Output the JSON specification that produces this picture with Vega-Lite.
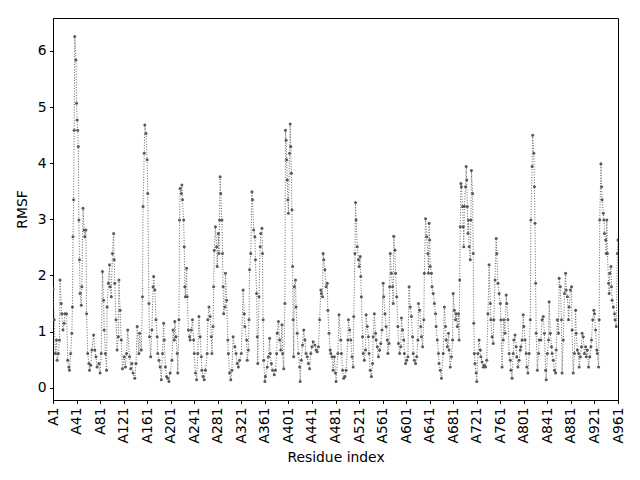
{
  "$schema": "https://vega.github.io/schema/vega-lite/v6.json",
  "width": 565,
  "height": 382,
  "autosize": "none",
  "padding": {"left": 53, "top": 18, "right": 22, "bottom": 80},
  "config": {
    "font": "DejaVu Sans",
    "view": {"stroke": "black", "strokeWidth": 1},
    "axis": {
      "grid": false,
      "domainColor": "black",
      "domainWidth": 1,
      "tickColor": "black",
      "tickWidth": 1,
      "tickSize": 3.5,
      "labelPadding": 3.5,
      "labelColor": "black",
      "labelFontSize": 13.9,
      "labelFlush": false,
      "labelOverlap": false,
      "labelBound": false,
      "titleColor": "black",
      "titleFontSize": 13.9,
      "titleFontWeight": "normal"
    }
  },
  "data": {
    "values": [
      {"residue": 1, "rmsf": 1.77}, {"residue": 3, "rmsf": 1.21}, {"residue": 5, "rmsf": 0.61}, {"residue": 7, "rmsf": 0.85},
      {"residue": 8, "rmsf": 0.49}, {"residue": 10, "rmsf": 0.61}, {"residue": 12, "rmsf": 0.85}, {"residue": 13, "rmsf": 1.92},
      {"residue": 15, "rmsf": 1.5}, {"residue": 16, "rmsf": 1.32}, {"residue": 18, "rmsf": 1.03}, {"residue": 20, "rmsf": 1.15},
      {"residue": 21, "rmsf": 1.32}, {"residue": 24, "rmsf": 1.32}, {"residue": 26, "rmsf": 0.49}, {"residue": 28, "rmsf": 0.37},
      {"residue": 29, "rmsf": 0.31}, {"residue": 31, "rmsf": 0.61}, {"residue": 33, "rmsf": 0.97}, {"residue": 34, "rmsf": 1.44},
      {"residue": 35, "rmsf": 2.69}, {"residue": 36, "rmsf": 3.35}, {"residue": 37, "rmsf": 4.59}, {"residue": 38, "rmsf": 6.26},
      {"residue": 40, "rmsf": 5.84}, {"residue": 41, "rmsf": 5.07}, {"residue": 42, "rmsf": 4.77}, {"residue": 43, "rmsf": 4.59},
      {"residue": 44, "rmsf": 4.3}, {"residue": 45, "rmsf": 2.99}, {"residue": 46, "rmsf": 2.28}, {"residue": 47, "rmsf": 1.68},
      {"residue": 49, "rmsf": 1.47}, {"residue": 50, "rmsf": 1.8}, {"residue": 52, "rmsf": 3.2}, {"residue": 54, "rmsf": 2.81},
      {"residue": 55, "rmsf": 2.69}, {"residue": 57, "rmsf": 2.81}, {"residue": 58, "rmsf": 1.32}, {"residue": 60, "rmsf": 0.61},
      {"residue": 62, "rmsf": 0.43}, {"residue": 63, "rmsf": 0.31}, {"residue": 65, "rmsf": 0.4}, {"residue": 67, "rmsf": 0.67},
      {"residue": 70, "rmsf": 0.94}, {"residue": 72, "rmsf": 0.67}, {"residue": 74, "rmsf": 0.55}, {"residue": 76, "rmsf": 0.37},
      {"residue": 79, "rmsf": 0.43}, {"residue": 81, "rmsf": 0.26}, {"residue": 83, "rmsf": 0.61}, {"residue": 85, "rmsf": 2.07},
      {"residue": 87, "rmsf": 1.56}, {"residue": 88, "rmsf": 1.03}, {"residue": 90, "rmsf": 0.61}, {"residue": 92, "rmsf": 0.31},
      {"residue": 93, "rmsf": 1.44}, {"residue": 95, "rmsf": 1.86}, {"residue": 97, "rmsf": 2.19}, {"residue": 98, "rmsf": 1.8},
      {"residue": 100, "rmsf": 1.62}, {"residue": 102, "rmsf": 2.39}, {"residue": 104, "rmsf": 2.75}, {"residue": 105, "rmsf": 2.28},
      {"residue": 106, "rmsf": 1.86}, {"residue": 108, "rmsf": 1.21}, {"residue": 110, "rmsf": 0.67}, {"residue": 112, "rmsf": 0.91},
      {"residue": 113, "rmsf": 1.92}, {"residue": 115, "rmsf": 1.38}, {"residue": 117, "rmsf": 0.85}, {"residue": 119, "rmsf": 0.34},
      {"residue": 122, "rmsf": 0.55}, {"residue": 124, "rmsf": 0.37}, {"residue": 126, "rmsf": 0.61}, {"residue": 128, "rmsf": 1.03},
      {"residue": 131, "rmsf": 0.55}, {"residue": 133, "rmsf": 0.34}, {"residue": 135, "rmsf": 0.43}, {"residue": 137, "rmsf": 0.26},
      {"residue": 140, "rmsf": 0.17}, {"residue": 142, "rmsf": 0.43}, {"residue": 144, "rmsf": 1.09}, {"residue": 147, "rmsf": 0.61},
      {"residue": 148, "rmsf": 0.97}, {"residue": 151, "rmsf": 0.67}, {"residue": 153, "rmsf": 1.62}, {"residue": 154, "rmsf": 3.23},
      {"residue": 156, "rmsf": 4.18}, {"residue": 157, "rmsf": 4.68}, {"residue": 159, "rmsf": 4.53}, {"residue": 161, "rmsf": 4.06},
      {"residue": 162, "rmsf": 3.46}, {"residue": 164, "rmsf": 1.5}, {"residue": 165, "rmsf": 0.91}, {"residue": 167, "rmsf": 0.55},
      {"residue": 169, "rmsf": 1.03}, {"residue": 171, "rmsf": 1.8}, {"residue": 172, "rmsf": 1.98}, {"residue": 174, "rmsf": 1.74},
      {"residue": 176, "rmsf": 1.21}, {"residue": 178, "rmsf": 0.91}, {"residue": 179, "rmsf": 0.61}, {"residue": 181, "rmsf": 0.49},
      {"residue": 183, "rmsf": 0.37}, {"residue": 185, "rmsf": 0.14}, {"residue": 187, "rmsf": 0.61}, {"residue": 189, "rmsf": 1.15},
      {"residue": 190, "rmsf": 0.85}, {"residue": 192, "rmsf": 0.37}, {"residue": 194, "rmsf": 0.2}, {"residue": 196, "rmsf": 0.17},
      {"residue": 198, "rmsf": 0.11}, {"residue": 200, "rmsf": 0.26}, {"residue": 203, "rmsf": 0.49}, {"residue": 205, "rmsf": 1.03},
      {"residue": 207, "rmsf": 0.85}, {"residue": 208, "rmsf": 1.18}, {"residue": 210, "rmsf": 0.91}, {"residue": 212, "rmsf": 0.61},
      {"residue": 213, "rmsf": 0.26}, {"residue": 215, "rmsf": 1.21}, {"residue": 216, "rmsf": 2.99}, {"residue": 217, "rmsf": 3.55},
      {"residue": 219, "rmsf": 3.46}, {"residue": 220, "rmsf": 3.61}, {"residue": 221, "rmsf": 3.35}, {"residue": 223, "rmsf": 2.99},
      {"residue": 224, "rmsf": 2.51}, {"residue": 225, "rmsf": 1.8}, {"residue": 226, "rmsf": 1.62}, {"residue": 228, "rmsf": 2.13},
      {"residue": 229, "rmsf": 1.62}, {"residue": 231, "rmsf": 1.03}, {"residue": 233, "rmsf": 0.91}, {"residue": 234, "rmsf": 0.85},
      {"residue": 236, "rmsf": 1.03}, {"residue": 238, "rmsf": 1.21}, {"residue": 240, "rmsf": 0.85}, {"residue": 241, "rmsf": 0.61},
      {"residue": 243, "rmsf": 0.26}, {"residue": 245, "rmsf": 0.14}, {"residue": 247, "rmsf": 0.61}, {"residue": 249, "rmsf": 1.27},
      {"residue": 251, "rmsf": 0.91}, {"residue": 253, "rmsf": 0.55}, {"residue": 254, "rmsf": 0.31}, {"residue": 256, "rmsf": 0.2},
      {"residue": 258, "rmsf": 0.14}, {"residue": 260, "rmsf": 0.31}, {"residue": 263, "rmsf": 0.61}, {"residue": 264, "rmsf": 1.21},
      {"residue": 266, "rmsf": 1.44}, {"residue": 268, "rmsf": 1.27}, {"residue": 270, "rmsf": 0.91}, {"residue": 271, "rmsf": 0.61},
      {"residue": 273, "rmsf": 1.09}, {"residue": 274, "rmsf": 1.8}, {"residue": 275, "rmsf": 2.45}, {"residue": 277, "rmsf": 2.87},
      {"residue": 279, "rmsf": 2.51}, {"residue": 280, "rmsf": 2.16}, {"residue": 282, "rmsf": 2.75}, {"residue": 283, "rmsf": 2.39},
      {"residue": 284, "rmsf": 2.99}, {"residue": 285, "rmsf": 3.76}, {"residue": 286, "rmsf": 3.46}, {"residue": 288, "rmsf": 2.99},
      {"residue": 289, "rmsf": 2.39}, {"residue": 290, "rmsf": 1.8}, {"residue": 291, "rmsf": 1.32}, {"residue": 293, "rmsf": 1.44},
      {"residue": 294, "rmsf": 2.04}, {"residue": 296, "rmsf": 1.56}, {"residue": 298, "rmsf": 0.85}, {"residue": 299, "rmsf": 0.61},
      {"residue": 301, "rmsf": 0.26}, {"residue": 303, "rmsf": 0.14}, {"residue": 305, "rmsf": 0.31}, {"residue": 307, "rmsf": 0.91},
      {"residue": 310, "rmsf": 0.73}, {"residue": 312, "rmsf": 0.61}, {"residue": 314, "rmsf": 0.43}, {"residue": 316, "rmsf": 0.37},
      {"residue": 318, "rmsf": 0.49}, {"residue": 321, "rmsf": 0.61}, {"residue": 324, "rmsf": 1.74}, {"residue": 326, "rmsf": 1.32},
      {"residue": 327, "rmsf": 1.09}, {"residue": 330, "rmsf": 0.85}, {"residue": 331, "rmsf": 0.49}, {"residue": 333, "rmsf": 0.67},
      {"residue": 334, "rmsf": 1.21}, {"residue": 335, "rmsf": 2.1}, {"residue": 337, "rmsf": 2.39}, {"residue": 339, "rmsf": 3.49},
      {"residue": 340, "rmsf": 3.35}, {"residue": 342, "rmsf": 2.81}, {"residue": 344, "rmsf": 2.69}, {"residue": 345, "rmsf": 2.28},
      {"residue": 347, "rmsf": 1.68}, {"residue": 348, "rmsf": 0.91}, {"residue": 349, "rmsf": 0.43}, {"residue": 351, "rmsf": 1.62},
      {"residue": 353, "rmsf": 2.51}, {"residue": 354, "rmsf": 2.75}, {"residue": 356, "rmsf": 2.84}, {"residue": 357, "rmsf": 2.39},
      {"residue": 358, "rmsf": 1.21}, {"residue": 359, "rmsf": 0.49}, {"residue": 361, "rmsf": 0.11}, {"residue": 362, "rmsf": 0.2},
      {"residue": 365, "rmsf": 0.37}, {"residue": 367, "rmsf": 0.55}, {"residue": 369, "rmsf": 0.88}, {"residue": 370, "rmsf": 0.61},
      {"residue": 372, "rmsf": 0.43}, {"residue": 374, "rmsf": 0.31}, {"residue": 377, "rmsf": 0.23}, {"residue": 379, "rmsf": 0.31},
      {"residue": 381, "rmsf": 0.61}, {"residue": 382, "rmsf": 0.97}, {"residue": 384, "rmsf": 1.18}, {"residue": 386, "rmsf": 0.85},
      {"residue": 388, "rmsf": 0.67}, {"residue": 390, "rmsf": 1.12}, {"residue": 391, "rmsf": 0.61}, {"residue": 393, "rmsf": 0.34},
      {"residue": 395, "rmsf": 1.5}, {"residue": 396, "rmsf": 4.59}, {"residue": 397, "rmsf": 4.41}, {"residue": 398, "rmsf": 4.06},
      {"residue": 399, "rmsf": 3.7}, {"residue": 400, "rmsf": 3.35}, {"residue": 401, "rmsf": 3.11}, {"residue": 403, "rmsf": 4.18},
      {"residue": 404, "rmsf": 4.7}, {"residue": 405, "rmsf": 4.3}, {"residue": 406, "rmsf": 3.82}, {"residue": 407, "rmsf": 3.17},
      {"residue": 408, "rmsf": 2.16}, {"residue": 409, "rmsf": 1.21}, {"residue": 410, "rmsf": 0.55}, {"residue": 411, "rmsf": 1.8},
      {"residue": 413, "rmsf": 1.92}, {"residue": 414, "rmsf": 1.44}, {"residue": 416, "rmsf": 0.97}, {"residue": 418, "rmsf": 0.61},
      {"residue": 420, "rmsf": 0.37}, {"residue": 421, "rmsf": 0.11}, {"residue": 423, "rmsf": 0.49}, {"residue": 425, "rmsf": 0.76},
      {"residue": 427, "rmsf": 1.03}, {"residue": 429, "rmsf": 0.85}, {"residue": 431, "rmsf": 0.61}, {"residue": 433, "rmsf": 0.55},
      {"residue": 435, "rmsf": 0.43}, {"residue": 437, "rmsf": 0.34}, {"residue": 439, "rmsf": 0.61}, {"residue": 441, "rmsf": 0.73},
      {"residue": 443, "rmsf": 0.82}, {"residue": 446, "rmsf": 0.76}, {"residue": 448, "rmsf": 0.67}, {"residue": 450, "rmsf": 0.64},
      {"residue": 452, "rmsf": 0.73}, {"residue": 454, "rmsf": 1.21}, {"residue": 456, "rmsf": 1.74}, {"residue": 457, "rmsf": 1.68},
      {"residue": 459, "rmsf": 1.62}, {"residue": 460, "rmsf": 2.39}, {"residue": 461, "rmsf": 2.28}, {"residue": 463, "rmsf": 2.1},
      {"residue": 465, "rmsf": 1.8}, {"residue": 467, "rmsf": 1.86}, {"residue": 468, "rmsf": 1.38}, {"residue": 470, "rmsf": 0.97},
      {"residue": 472, "rmsf": 0.67}, {"residue": 473, "rmsf": 0.61}, {"residue": 475, "rmsf": 0.55}, {"residue": 477, "rmsf": 0.31},
      {"residue": 479, "rmsf": 0.55}, {"residue": 481, "rmsf": 0.26}, {"residue": 482, "rmsf": 0.11}, {"residue": 485, "rmsf": 0.61},
      {"residue": 487, "rmsf": 1.3}, {"residue": 490, "rmsf": 0.85}, {"residue": 491, "rmsf": 0.61}, {"residue": 493, "rmsf": 0.31},
      {"residue": 495, "rmsf": 0.17}, {"residue": 497, "rmsf": 0.2}, {"residue": 499, "rmsf": 0.31}, {"residue": 502, "rmsf": 0.85},
      {"residue": 503, "rmsf": 1.21}, {"residue": 505, "rmsf": 1.03}, {"residue": 507, "rmsf": 0.85}, {"residue": 509, "rmsf": 0.55},
      {"residue": 511, "rmsf": 0.37}, {"residue": 512, "rmsf": 1.27}, {"residue": 514, "rmsf": 2.39}, {"residue": 515, "rmsf": 3.3},
      {"residue": 516, "rmsf": 2.99}, {"residue": 518, "rmsf": 2.51}, {"residue": 520, "rmsf": 2.28}, {"residue": 521, "rmsf": 2.16},
      {"residue": 523, "rmsf": 2.34}, {"residue": 524, "rmsf": 1.98}, {"residue": 525, "rmsf": 1.62}, {"residue": 527, "rmsf": 0.91},
      {"residue": 528, "rmsf": 0.61}, {"residue": 530, "rmsf": 0.49}, {"residue": 532, "rmsf": 0.67}, {"residue": 533, "rmsf": 1.3},
      {"residue": 535, "rmsf": 1.09}, {"residue": 537, "rmsf": 0.91}, {"residue": 538, "rmsf": 0.61}, {"residue": 540, "rmsf": 0.31},
      {"residue": 542, "rmsf": 0.2}, {"residue": 544, "rmsf": 0.43}, {"residue": 545, "rmsf": 0.91}, {"residue": 547, "rmsf": 1.32},
      {"residue": 549, "rmsf": 0.97}, {"residue": 550, "rmsf": 0.85}, {"residue": 552, "rmsf": 0.73}, {"residue": 554, "rmsf": 0.55},
      {"residue": 556, "rmsf": 0.67}, {"residue": 558, "rmsf": 0.79}, {"residue": 560, "rmsf": 1.03}, {"residue": 562, "rmsf": 1.86},
      {"residue": 563, "rmsf": 1.62}, {"residue": 565, "rmsf": 1.32}, {"residue": 567, "rmsf": 1.09}, {"residue": 569, "rmsf": 0.85},
      {"residue": 570, "rmsf": 0.61}, {"residue": 572, "rmsf": 0.79}, {"residue": 573, "rmsf": 1.8}, {"residue": 574, "rmsf": 2.39},
      {"residue": 576, "rmsf": 2.04}, {"residue": 578, "rmsf": 1.8}, {"residue": 579, "rmsf": 1.5}, {"residue": 580, "rmsf": 2.7},
      {"residue": 582, "rmsf": 2.45}, {"residue": 583, "rmsf": 2.04}, {"residue": 585, "rmsf": 1.62}, {"residue": 587, "rmsf": 1.09},
      {"residue": 588, "rmsf": 0.79}, {"residue": 590, "rmsf": 0.61}, {"residue": 592, "rmsf": 0.73}, {"residue": 593, "rmsf": 1.24},
      {"residue": 595, "rmsf": 1.03}, {"residue": 597, "rmsf": 0.85}, {"residue": 598, "rmsf": 0.61}, {"residue": 600, "rmsf": 0.43},
      {"residue": 602, "rmsf": 0.49}, {"residue": 604, "rmsf": 0.55}, {"residue": 606, "rmsf": 1.8}, {"residue": 608, "rmsf": 1.44},
      {"residue": 610, "rmsf": 1.27}, {"residue": 612, "rmsf": 0.91}, {"residue": 613, "rmsf": 0.61}, {"residue": 615, "rmsf": 0.49},
      {"residue": 617, "rmsf": 0.43}, {"residue": 619, "rmsf": 0.55}, {"residue": 621, "rmsf": 0.85}, {"residue": 622, "rmsf": 1.5},
      {"residue": 624, "rmsf": 1.38}, {"residue": 626, "rmsf": 1.09}, {"residue": 627, "rmsf": 0.91}, {"residue": 629, "rmsf": 0.73},
      {"residue": 631, "rmsf": 1.21}, {"residue": 632, "rmsf": 2.04}, {"residue": 634, "rmsf": 3.01}, {"residue": 636, "rmsf": 2.69},
      {"residue": 638, "rmsf": 2.39}, {"residue": 639, "rmsf": 2.04}, {"residue": 640, "rmsf": 2.93}, {"residue": 641, "rmsf": 2.63},
      {"residue": 642, "rmsf": 2.16}, {"residue": 644, "rmsf": 2.04}, {"residue": 645, "rmsf": 1.8}, {"residue": 647, "rmsf": 1.68},
      {"residue": 649, "rmsf": 1.5}, {"residue": 651, "rmsf": 1.32}, {"residue": 652, "rmsf": 1.09}, {"residue": 654, "rmsf": 0.85},
      {"residue": 656, "rmsf": 0.61}, {"residue": 657, "rmsf": 0.43}, {"residue": 659, "rmsf": 0.31}, {"residue": 661, "rmsf": 0.17},
      {"residue": 664, "rmsf": 0.61}, {"residue": 666, "rmsf": 1.44}, {"residue": 668, "rmsf": 1.09}, {"residue": 669, "rmsf": 0.85},
      {"residue": 671, "rmsf": 0.73}, {"residue": 673, "rmsf": 0.97}, {"residue": 674, "rmsf": 0.67}, {"residue": 676, "rmsf": 0.37},
      {"residue": 678, "rmsf": 0.55}, {"residue": 680, "rmsf": 0.85}, {"residue": 681, "rmsf": 1.68}, {"residue": 683, "rmsf": 1.38},
      {"residue": 685, "rmsf": 1.21}, {"residue": 686, "rmsf": 1.32}, {"residue": 688, "rmsf": 1.09}, {"residue": 690, "rmsf": 1.32},
      {"residue": 691, "rmsf": 0.85}, {"residue": 692, "rmsf": 1.92}, {"residue": 693, "rmsf": 2.87}, {"residue": 694, "rmsf": 3.64},
      {"residue": 695, "rmsf": 3.58}, {"residue": 697, "rmsf": 3.23}, {"residue": 698, "rmsf": 2.87}, {"residue": 699, "rmsf": 2.51},
      {"residue": 700, "rmsf": 3.23}, {"residue": 702, "rmsf": 3.58}, {"residue": 703, "rmsf": 3.94}, {"residue": 704, "rmsf": 3.7},
      {"residue": 705, "rmsf": 3.23}, {"residue": 706, "rmsf": 2.75}, {"residue": 707, "rmsf": 2.99}, {"residue": 708, "rmsf": 2.51},
      {"residue": 710, "rmsf": 2.28}, {"residue": 711, "rmsf": 2.99}, {"residue": 712, "rmsf": 3.87}, {"residue": 714, "rmsf": 3.46},
      {"residue": 715, "rmsf": 2.39}, {"residue": 716, "rmsf": 1.15}, {"residue": 717, "rmsf": 0.61}, {"residue": 718, "rmsf": 0.43},
      {"residue": 720, "rmsf": 0.26}, {"residue": 721, "rmsf": 0.11}, {"residue": 723, "rmsf": 0.61}, {"residue": 725, "rmsf": 0.85},
      {"residue": 727, "rmsf": 0.67}, {"residue": 728, "rmsf": 0.55}, {"residue": 730, "rmsf": 0.46}, {"residue": 732, "rmsf": 0.37},
      {"residue": 734, "rmsf": 0.4}, {"residue": 736, "rmsf": 0.37}, {"residue": 738, "rmsf": 0.49}, {"residue": 740, "rmsf": 1.32},
      {"residue": 742, "rmsf": 2.19}, {"residue": 744, "rmsf": 1.5}, {"residue": 745, "rmsf": 1.21}, {"residue": 747, "rmsf": 0.91},
      {"residue": 749, "rmsf": 0.79}, {"residue": 750, "rmsf": 1.21}, {"residue": 752, "rmsf": 1.92}, {"residue": 754, "rmsf": 2.66},
      {"residue": 755, "rmsf": 2.39}, {"residue": 757, "rmsf": 1.86}, {"residue": 759, "rmsf": 1.68}, {"residue": 761, "rmsf": 1.5},
      {"residue": 762, "rmsf": 1.21}, {"residue": 764, "rmsf": 0.37}, {"residue": 766, "rmsf": 0.85}, {"residue": 767, "rmsf": 1.21},
      {"residue": 769, "rmsf": 0.97}, {"residue": 771, "rmsf": 1.65}, {"residue": 772, "rmsf": 1.5}, {"residue": 774, "rmsf": 1.21},
      {"residue": 776, "rmsf": 0.61}, {"residue": 778, "rmsf": 0.49}, {"residue": 779, "rmsf": 0.31}, {"residue": 781, "rmsf": 0.17},
      {"residue": 783, "rmsf": 0.61}, {"residue": 784, "rmsf": 0.85}, {"residue": 786, "rmsf": 0.94}, {"residue": 788, "rmsf": 0.73},
      {"residue": 789, "rmsf": 0.55}, {"residue": 791, "rmsf": 0.37}, {"residue": 793, "rmsf": 0.49}, {"residue": 795, "rmsf": 0.67},
      {"residue": 796, "rmsf": 0.73}, {"residue": 798, "rmsf": 0.85}, {"residue": 800, "rmsf": 1.3}, {"residue": 801, "rmsf": 1.09},
      {"residue": 803, "rmsf": 0.85}, {"residue": 805, "rmsf": 0.61}, {"residue": 806, "rmsf": 0.37}, {"residue": 808, "rmsf": 0.26},
      {"residue": 810, "rmsf": 0.61}, {"residue": 812, "rmsf": 1.21}, {"residue": 813, "rmsf": 2.99}, {"residue": 815, "rmsf": 3.94},
      {"residue": 816, "rmsf": 4.5}, {"residue": 818, "rmsf": 4.18}, {"residue": 819, "rmsf": 3.58}, {"residue": 820, "rmsf": 2.93},
      {"residue": 821, "rmsf": 1.86}, {"residue": 822, "rmsf": 0.97}, {"residue": 824, "rmsf": 0.31}, {"residue": 826, "rmsf": 0.61},
      {"residue": 827, "rmsf": 0.85}, {"residue": 830, "rmsf": 0.85}, {"residue": 832, "rmsf": 1.21}, {"residue": 834, "rmsf": 1.27},
      {"residue": 836, "rmsf": 0.97}, {"residue": 838, "rmsf": 0.31}, {"residue": 839, "rmsf": 0.14}, {"residue": 841, "rmsf": 0.61},
      {"residue": 843, "rmsf": 0.85}, {"residue": 844, "rmsf": 1.53}, {"residue": 846, "rmsf": 0.97}, {"residue": 848, "rmsf": 0.73},
      {"residue": 849, "rmsf": 0.61}, {"residue": 851, "rmsf": 0.49}, {"residue": 853, "rmsf": 0.31}, {"residue": 855, "rmsf": 0.26},
      {"residue": 856, "rmsf": 0.67}, {"residue": 858, "rmsf": 1.21}, {"residue": 860, "rmsf": 0.97}, {"residue": 861, "rmsf": 1.95},
      {"residue": 863, "rmsf": 1.8}, {"residue": 865, "rmsf": 1.21}, {"residue": 866, "rmsf": 0.26}, {"residue": 868, "rmsf": 0.85},
      {"residue": 870, "rmsf": 1.68}, {"residue": 872, "rmsf": 2.04}, {"residue": 873, "rmsf": 1.74}, {"residue": 875, "rmsf": 1.62},
      {"residue": 877, "rmsf": 1.21}, {"residue": 878, "rmsf": 1.44}, {"residue": 880, "rmsf": 1.74}, {"residue": 882, "rmsf": 1.8},
      {"residue": 883, "rmsf": 1.03}, {"residue": 885, "rmsf": 0.26}, {"residue": 887, "rmsf": 0.61}, {"residue": 889, "rmsf": 1.38},
      {"residue": 890, "rmsf": 0.97}, {"residue": 892, "rmsf": 0.67}, {"residue": 894, "rmsf": 0.61}, {"residue": 895, "rmsf": 0.37},
      {"residue": 897, "rmsf": 0.55}, {"residue": 899, "rmsf": 0.73}, {"residue": 900, "rmsf": 0.97}, {"residue": 902, "rmsf": 0.91},
      {"residue": 904, "rmsf": 0.61}, {"residue": 906, "rmsf": 0.73}, {"residue": 907, "rmsf": 0.55}, {"residue": 909, "rmsf": 0.67},
      {"residue": 911, "rmsf": 0.37}, {"residue": 913, "rmsf": 0.55}, {"residue": 915, "rmsf": 0.73}, {"residue": 916, "rmsf": 0.85},
      {"residue": 918, "rmsf": 1.21}, {"residue": 920, "rmsf": 1.38}, {"residue": 921, "rmsf": 1.32}, {"residue": 923, "rmsf": 1.03},
      {"residue": 925, "rmsf": 0.67}, {"residue": 926, "rmsf": 0.61}, {"residue": 928, "rmsf": 0.37}, {"residue": 929, "rmsf": 1.21},
      {"residue": 930, "rmsf": 2.99}, {"residue": 932, "rmsf": 3.99}, {"residue": 933, "rmsf": 3.58}, {"residue": 934, "rmsf": 3.35},
      {"residue": 936, "rmsf": 3.11}, {"residue": 937, "rmsf": 2.99}, {"residue": 938, "rmsf": 2.75}, {"residue": 940, "rmsf": 2.63},
      {"residue": 941, "rmsf": 2.39}, {"residue": 942, "rmsf": 2.99}, {"residue": 943, "rmsf": 2.39}, {"residue": 945, "rmsf": 1.86},
      {"residue": 946, "rmsf": 1.68}, {"residue": 947, "rmsf": 2.04}, {"residue": 949, "rmsf": 2.16}, {"residue": 950, "rmsf": 1.8},
      {"residue": 951, "rmsf": 1.56}, {"residue": 953, "rmsf": 1.44}, {"residue": 955, "rmsf": 1.32}, {"residue": 956, "rmsf": 1.21},
      {"residue": 958, "rmsf": 1.09}, {"residue": 960, "rmsf": 2.39}, {"residue": 961, "rmsf": 2.63}
    ]
  },
  "encoding": {
    "x": {
      "field": "residue",
      "type": "quantitative",
      "scale": {"domain": [1, 961], "nice": false, "zero": false},
      "axis": {
        "title": "Residue index",
        "titlePadding": 7,
        "values": [1, 41, 81, 121, 161, 201, 241, 281, 321, 361, 401, 441, 481, 521, 561, 601, 641, 681, 721, 761, 801, 841, 881, 921, 961],
        "labelExpr": "'A' + datum.value",
        "labelAngle": -90,
        "labelAlign": "right",
        "labelBaseline": "middle"
      }
    },
    "y": {
      "field": "rmsf",
      "type": "quantitative",
      "scale": {"domain": [-0.219, 6.588], "nice": false, "zero": false},
      "axis": {"title": "RMSF", "titlePadding": 8, "values": [0, 1, 2, 3, 4, 5, 6]}
    }
  },
  "layer": [
    {"mark": {"type": "line", "color": "#666666", "strokeWidth": 1, "strokeDash": [1, 1.65], "clip": true}},
    {"mark": {"type": "point", "filled": true, "color": "#585858", "opacity": 1, "size": 9, "clip": true}}
  ]
}
